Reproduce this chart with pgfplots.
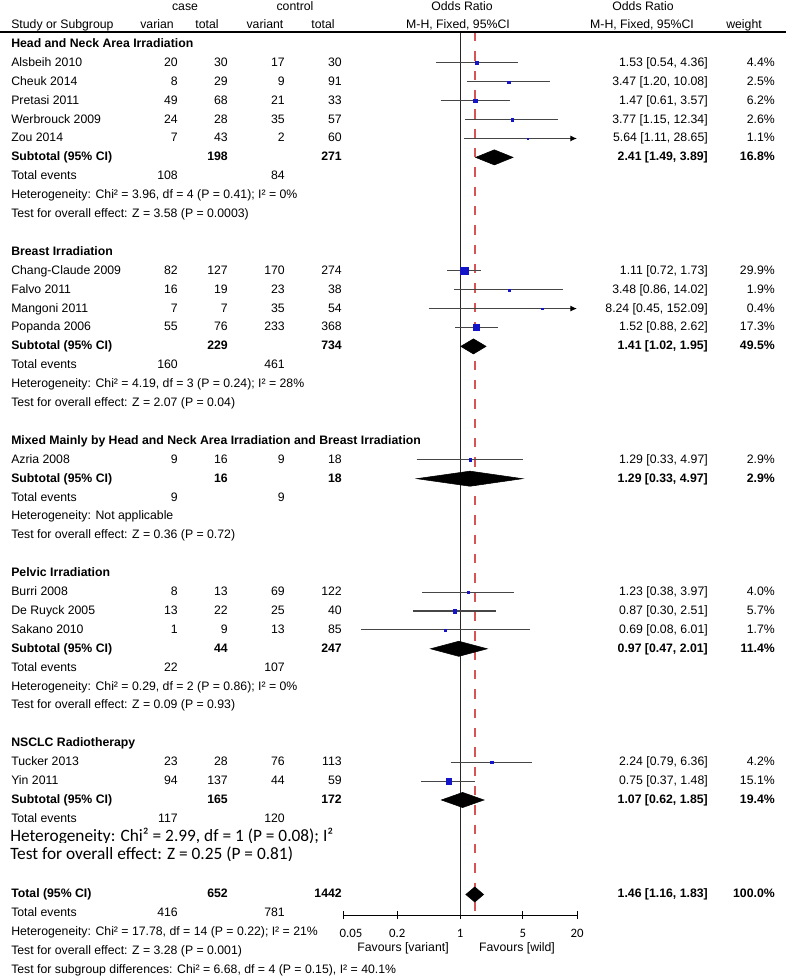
\documentclass[border=0pt]{standalone}
\usepackage{pgfplots}
\pgfplotsset{compat=1.18}
\usepackage{fontspec}
\setmainfont{Liberation Sans}
\newfontfamily\carlito{Carlito}
\usetikzlibrary{arrows.meta}
\definecolor{cired}{RGB}{214,84,84}
\definecolor{sqblue}{RGB}{20,20,200}
\definecolor{cigray}{RGB}{70,70,70}

\newcommand\By[1]{47.5+18.9*#1}
\newcommand\Lab[2]{\node[anchor=base west] at (11,{\By{#1}}) {#2};}
\newcommand\Num[3]{\node[anchor=base east] at (#1,{\By{#2}}) {#3};}
\newcommand\Study[8]{\Lab{#1}{#2}\Num{178}{#1}{#3}\Num{228}{#1}{#4}\Num{285}{#1}{#5}\Num{342}{#1}{#6}\Num{708}{#1}{#7}\Num{775}{#1}{#8}}
\newcommand\Sub[5]{\Lab{#1}{\bfseries Subtotal (95\% CI)}\Num{228}{#1}{\bfseries #2}\Num{342}{#1}{\bfseries #3}\Num{708}{#1}{\bfseries #4}\Num{775}{#1}{\bfseries #5}}
\newcommand\Ev[3]{\Lab{#1}{Total events}\Num{178}{#1}{#2}\Num{285}{#1}{#3}}

\pgfplotstableread{
or    lo    hi     y    w
1.53  0.54  4.36   -1   4.4
3.47  1.20  10.08  -2   2.5
1.47  0.61  3.57   -3   6.2
3.77  1.15  12.34  -4   2.6
5.64  1.11  28.65  -5   1.1
1.11  0.72  1.73   -12  29.9
3.48  0.86  14.02  -13  1.9
8.24  0.45  152.09 -14  0.4
1.52  0.88  2.62   -15  17.3
1.29  0.33  4.97   -22  2.9
1.23  0.38  3.97   -29  4.0
0.87  0.30  2.51   -30  5.7
0.69  0.08  6.01   -31  1.7
2.24  0.79  6.36   -38  4.2
0.75  0.37  1.48   -39  15.1
}\studies

\begin{document}
\begin{tikzpicture}[font=\fontsize{9.2}{11}\selectfont]
\useasboundingbox (0,0) rectangle (589.5pt,732.75pt);
\begin{axis}[at={(257.25pt,46.5pt)}, anchor=south west, scale only axis,
  width=175.5pt, height=686.25pt,
  xmode=log, xmin=0.05, xmax=20, ymin=-46.085, ymax=2.328,
  axis x line=bottom, axis y line=none,
  axis line style={-, line width=0.75pt, black},
  xtick={0.05,0.2,1,5,20},
  xticklabels={{\hspace{12pt}0.05},0.2,1,5,{20\hspace{7.5pt}}},
  xminorticks=false, tick align=center, major tick length=6pt,
  tick style={black, line width=0.75pt},
  xticklabel style={font=\carlito\fontsize{9.6}{10}\selectfont, yshift=-4pt},
  clip=false]
% reference lines
\addplot[black!85, line width=0.65pt] coordinates {(1,0.635) (1,-46.085)};
\addplot[cired, line width=1.2pt, dash pattern=on 7pt off 7.5pt] coordinates {(1.46,0.635) (1.46,-46.085)};
% confidence intervals of the studies
\addplot[cigray, line width=0.8pt] coordinates {(0.54,-1) (4.36,-1)};
\addplot[cigray, line width=0.8pt] coordinates {(1.20,-2) (10.08,-2)};
\addplot[cigray, line width=0.8pt] coordinates {(0.61,-3) (3.57,-3)};
\addplot[cigray, line width=0.8pt] coordinates {(1.15,-4) (12.34,-4)};
\addplot[cigray, line width=0.8pt, -{Latex[length=5pt,width=4.5pt,black]}] coordinates {(1.11,-5) (20,-5)};
\addplot[cigray, line width=0.8pt] coordinates {(0.72,-12) (1.73,-12)};
\addplot[cigray, line width=0.8pt] coordinates {(0.86,-13) (14.02,-13)};
\addplot[cigray, line width=0.8pt, -{Latex[length=5pt,width=4.5pt,black]}] coordinates {(0.45,-14) (20,-14)};
\addplot[cigray, line width=0.8pt] coordinates {(0.88,-15) (2.62,-15)};
\addplot[cigray, line width=0.8pt] coordinates {(0.33,-22) (4.97,-22)};
\addplot[cigray, line width=0.8pt] coordinates {(0.38,-29) (3.97,-29)};
\addplot[cigray, line width=0.8pt] coordinates {(0.30,-30) (2.51,-30)};
\addplot[cigray, line width=0.8pt] coordinates {(0.08,-31) (6.01,-31)};
\addplot[cigray, line width=0.8pt] coordinates {(0.79,-38) (6.36,-38)};
\addplot[cigray, line width=0.8pt] coordinates {(0.37,-39) (1.48,-39)};
% study estimates, square area by weight
\addplot[only marks, mark=square*, scatter, point meta=\thisrow{w},
  visualization depends on={\thisrow{w}\as\wt},
  scatter/use mapped color={draw=sqblue, fill=sqblue},
  scatter/@pre marker code/.append style={/tikz/mark size={max(0.6,0.52*sqrt(\wt))}},
  mark options={line width=0.2pt}]
  table[x=or, y=y] {\studies};
% pooled estimates (diamonds)
\addplot[fill=black, draw=black] coordinates {(1.49,-6) (2.41,-5.6) (3.89,-6) (2.41,-6.4)} -- cycle;
\addplot[fill=black, draw=black] coordinates {(1.02,-16) (1.41,-15.6) (1.95,-16) (1.41,-16.4)} -- cycle;
\addplot[fill=black, draw=black] coordinates {(0.33,-23) (1.29,-22.6) (4.97,-23) (1.29,-23.4)} -- cycle;
\addplot[fill=black, draw=black] coordinates {(0.47,-32) (0.97,-31.6) (2.01,-32) (0.97,-32.4)} -- cycle;
\addplot[fill=black, draw=black] coordinates {(0.62,-40) (1.07,-39.6) (1.85,-40) (1.07,-40.4)} -- cycle;
\addplot[fill=black, draw=black] coordinates {(1.16,-45) (1.46,-44.6) (1.83,-45) (1.46,-45.4)} -- cycle;
\end{axis}

\begin{scope}[x=0.75pt,y=-0.75pt,shift={(0pt,732.75pt)}, every node/.style={inner sep=0pt}]
% header
\node[anchor=base] at (185,11) {case};
\node[anchor=base] at (295,11) {control};
\node[anchor=base] at (462,11) {Odds Ratio};
\node[anchor=base] at (643,11) {Odds Ratio};
\node[anchor=base west] at (11,29) {Study or Subgroup};
\node[anchor=base] at (157,29) {varian};
\node[anchor=base] at (207,29) {total};
\node[anchor=base] at (265,29) {variant};
\node[anchor=base] at (323,29) {total};
\node[anchor=base] at (458,29) {M-H, Fixed, 95\%CI};
\node[anchor=base] at (642,29) {M-H, Fixed, 95\%CI};
\node[anchor=base] at (744,29) {weight};
\draw[line width=0.9pt] (0,32) -- (786,32);
% Head and neck
\Lab{0}{\bfseries Head and Neck Area Irradiation}
\Study{1}{Alsbeih 2010}{20}{30}{17}{30}{1.53 [0.54, 4.36]}{4.4\%}
\Study{2}{Cheuk 2014}{8}{29}{9}{91}{3.47 [1.20, 10.08]}{2.5\%}
\Study{3}{Pretasi 2011}{49}{68}{21}{33}{1.47 [0.61, 3.57]}{6.2\%}
\Study{4}{Werbrouck 2009}{24}{28}{35}{57}{3.77 [1.15, 12.34]}{2.6\%}
\Study{5}{Zou 2014}{7}{43}{2}{60}{5.64 [1.11, 28.65]}{1.1\%}
\Sub{6}{198}{271}{2.41 [1.49, 3.89]}{16.8\%}
\Ev{7}{108}{84}
\Lab{8}{Heterogeneity: Chi² = 3.96, df = 4 (P = 0.41); I² = 0\%}
\Lab{9}{Test for overall effect: Z = 3.58 (P = 0.0003)}
% Breast
\Lab{11}{\bfseries Breast Irradiation}
\Study{12}{Chang-Claude 2009}{82}{127}{170}{274}{1.11 [0.72, 1.73]}{29.9\%}
\Study{13}{Falvo 2011}{16}{19}{23}{38}{3.48 [0.86, 14.02]}{1.9\%}
\Study{14}{Mangoni 2011}{7}{7}{35}{54}{8.24 [0.45, 152.09]}{0.4\%}
\Study{15}{Popanda 2006}{55}{76}{233}{368}{1.52 [0.88, 2.62]}{17.3\%}
\Sub{16}{229}{734}{1.41 [1.02, 1.95]}{49.5\%}
\Ev{17}{160}{461}
\Lab{18}{Heterogeneity: Chi² = 4.19, df = 3 (P = 0.24); I² = 28\%}
\Lab{19}{Test for overall effect: Z = 2.07 (P = 0.04)}
% Mixed
\Lab{21}{\bfseries Mixed Mainly by Head and Neck Area Irradiation and Breast Irradiation}
\Study{22}{Azria 2008}{9}{16}{9}{18}{1.29 [0.33, 4.97]}{2.9\%}
\Sub{23}{16}{18}{1.29 [0.33, 4.97]}{2.9\%}
\Ev{24}{9}{9}
\Lab{25}{Heterogeneity: Not applicable}
\Lab{26}{Test for overall effect: Z = 0.36 (P = 0.72)}
% Pelvic
\Lab{28}{\bfseries Pelvic Irradiation}
\Study{29}{Burri 2008}{8}{13}{69}{122}{1.23 [0.38, 3.97]}{4.0\%}
\Study{30}{De Ruyck 2005}{13}{22}{25}{40}{0.87 [0.30, 2.51]}{5.7\%}
\Study{31}{Sakano 2010}{1}{9}{13}{85}{0.69 [0.08, 6.01]}{1.7\%}
\Sub{32}{44}{247}{0.97 [0.47, 2.01]}{11.4\%}
\Ev{33}{22}{107}
\Lab{34}{Heterogeneity: Chi² = 0.29, df = 2 (P = 0.86); I² = 0\%}
\Lab{35}{Test for overall effect: Z = 0.09 (P = 0.93)}
% NSCLC
\Lab{37}{\bfseries NSCLC Radiotherapy}
\Study{38}{Tucker 2013}{23}{28}{76}{113}{2.24 [0.79, 6.36]}{4.2\%}
\Study{39}{Yin 2011}{94}{137}{44}{59}{0.75 [0.37, 1.48]}{15.1\%}
\Sub{40}{165}{172}{1.07 [0.62, 1.85]}{19.4\%}
\Ev{41}{117}{120}
\begin{scope}
\clip (0,800) rectangle (420,842.6);
\node[anchor=base west, font=\carlito\fontsize{13}{14}\selectfont] at (10,842) {Heterogeneity: Chi² = 2.99, df = 1 (P = 0.08); I²};
\end{scope}
\begin{scope}
\clip (0,844) rectangle (420,860.6);
\node[anchor=base west, font=\carlito\fontsize{13}{14}\selectfont] at (10,860) {Test for overall effect: Z = 0.25 (P = 0.81)};
\end{scope}
% Total
\Lab{45}{\bfseries Total (95\% CI)}
\Num{228}{45}{\bfseries 652}\Num{342}{45}{\bfseries 1442}
\Num{708}{45}{\bfseries 1.46 [1.16, 1.83]}\Num{775}{45}{\bfseries 100.0\%}
\Ev{46}{416}{781}
\Lab{47}{Heterogeneity: Chi² = 17.78, df = 14 (P = 0.22); I² = 21\%}
\Lab{48}{Test for overall effect: Z = 3.28 (P = 0.001)}
\Lab{49}{Test for subgroup differences: Chi² = 6.68, df = 4 (P = 0.15), I² = 40.1\%}
% favours
\node[anchor=base] at (403,952) {Favours [variant]};
\node[anchor=base] at (517,952) {Favours [wild]};
\end{scope}
\end{tikzpicture}
\end{document}
